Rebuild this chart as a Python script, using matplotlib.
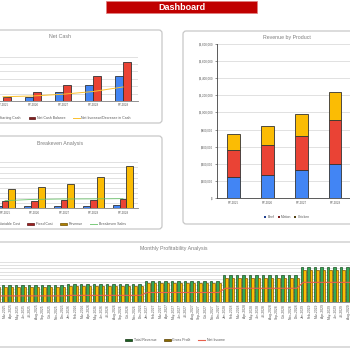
import matplotlib
matplotlib.use("Agg")
import matplotlib.pyplot as plt
from matplotlib.patches import FancyBboxPatch, Rectangle, Patch
from matplotlib.lines import Line2D

plt.rcParams['font.family'] = ['Liberation Sans', 'DejaVu Sans']

# ---------------- data ----------------
years = ["FY-2025", "FY-2026", "FY-2027", "FY-2028", "FY-2029"]

starting_cash = [0, 58000, 125000, 215000, 342000]
net_cash_balance = [58000, 125000, 215000, 342000, 532000]
net_increase = [58000, 68000, 92000, 128000, 190000]

variable_cost = [105000, 105000, 105000, 108000, 130000]
fixed_cost = [287000, 290000, 327000, 330000, 366000]
be_revenue = [758000, 823000, 954000, 1216000, 1660000]
breakeven_sales = [300000, 350000, 365000, 368000, 378000]

beef = [246000, 273000, 324000, 402000, 520000]
mutton = [312000, 343000, 397000, 514000, 670000]
chicken = [194000, 222000, 261000, 324000, 440000]

month_names = ["Jan", "Feb", "Mar", "Apr", "May", "Jun",
               "Jul", "Aug", "Sep", "Oct", "Nov", "Dec"]
label_years = ["2025", "2026", "2027", "2028", "2029"]
month_labels = [f"{m}-{y}" for y in label_years for m in month_names]

monthly_revenue = [50000] * 12 + [54000] * 12 + [64000] * 12 + [81000] * 12 + [105000] * 12
monthly_gross = [44000] * 12 + [47500] * 12 + [56000] * 12 + [71000] * 12 + [95000] * 12
monthly_net = [19000] * 12 + [20500] * 12 + [29000] * 12 + [41500] * 12 + [59000] * 12

# ---------------- styling ----------------
BLUE = '#4285F4'
RED = '#EA4335'
YELLOW = '#FBBC04'
GREEN = '#34A853'
EDGE = '#333333'
GRID = '#D5D5D5'
TXT = '#595959'
TITLE = '#7F7F7F'

W = H = 350.0
fig = plt.figure(figsize=(3.5, 3.5), dpi=100)
fig.patch.set_facecolor('white')


def fx(x):
    return x / W


def fy(y):
    return 1 - y / H


def px_axes(l, t, r, b):
    ax = fig.add_axes([l / W, 1 - b / H, (r - l) / W, (b - t) / H])
    ax.set_facecolor('none')
    ax.set_zorder(2)
    return ax


def frame(l, t, r, b):
    p = FancyBboxPatch((fx(l), fy(b)), (r - l) / W, (b - t) / H,
                       boxstyle="round,pad=0,rounding_size=0.009",
                       transform=fig.transFigure, facecolor='white',
                       edgecolor='#C8C8C8', linewidth=0.9, zorder=-1)
    fig.patches.append(p)


def style_cat_axes(ax, spine_left=False):
    for s in ['top', 'right']:
        ax.spines[s].set_visible(False)
    ax.spines['left'].set_visible(spine_left)
    ax.spines['bottom'].set_color('#808080')
    ax.spines['bottom'].set_linewidth(0.6)
    ax.yaxis.grid(True, color=GRID, linewidth=0.5)
    ax.set_axisbelow(True)
    ax.tick_params(axis='x', length=0, pad=1.8, labelsize=2.2, labelcolor=TXT)
    ax.tick_params(axis='y', length=0, labelsize=2.2, labelcolor=TXT)


# frames
frame(-5, 30, 162, 123)
frame(-5, 136, 162, 229)
frame(183, 31, 400, 224)
frame(-5, 242, 360, 347)

# Dashboard banner
fig.patches.append(Rectangle((fx(106), fy(13.3)), (257 - 106) / W, 12 / H,
                             transform=fig.transFigure, facecolor='#C00000',
                             edgecolor='#E08080', linewidth=0.5, zorder=1))
fig.text(fx(181.5), fy(7.3), "Dashboard", color='white', fontsize=6.5,
         fontweight='bold', ha='center', va='center', zorder=3)

# ---------------- Net Cash ----------------
ax1 = px_axes(-12, 56.7, 138, 101)
x = list(range(len(years)))
bw = 0.28
ax1.bar([i - bw / 2 for i in x], starting_cash, bw, color=BLUE, edgecolor=EDGE, linewidth=0.6)
ax1.bar([i + bw / 2 for i in x], net_cash_balance, bw, color=RED, edgecolor=EDGE, linewidth=0.6)
ax1.plot(x, net_increase, color='#FBC02D', linewidth=0.7)
ax1.set_xlim(-0.5, 4.5)
ax1.set_ylim(0, 600000)
ax1.set_yticks(range(0, 600001, 100000))
ax1.set_yticklabels([])
ax1.set_xticks(x)
ax1.set_xticklabels(years)
style_cat_axes(ax1)
fig.text(fx(60), fy(36.5), "Net Cash", color=TITLE, fontsize=3.8, ha='center', va='center')
fig.legend([Patch(facecolor=BLUE, edgecolor='#1F3F8F', linewidth=0.5),
            Patch(facecolor='#7F1F1F', edgecolor='#5A1010', linewidth=0.5),
            Line2D([0], [0], color='#FBC02D', linewidth=0.7)],
           ["Starting Cash", "Net Cash Balance", "Net Increase/Decrease in Cash"],
           loc='center', bbox_to_anchor=(fx(61), fy(118)), ncol=3, frameon=False,
           fontsize=2.5, handlelength=2.0, handleheight=0.5, handletextpad=0.4,
           columnspacing=2.2, labelcolor=TXT)

# ---------------- Breakeven Analysis ----------------
ax2 = px_axes(-9.75, 162.3, 137.75, 208.3)
bw2 = 0.237
ax2.bar([i - bw2 for i in x], variable_cost, bw2, color=BLUE, edgecolor=EDGE, linewidth=0.6)
ax2.bar(x, fixed_cost, bw2, color=RED, edgecolor=EDGE, linewidth=0.6)
ax2.bar([i + bw2 for i in x], be_revenue, bw2, color=YELLOW, edgecolor=EDGE, linewidth=0.6)
ax2.plot(x, breakeven_sales, color='#6CC56C', linewidth=0.6, zorder=4)
ax2.set_xlim(-0.5, 4.5)
ax2.set_ylim(0, 1800000)
ax2.set_yticks(range(0, 1800001, 200000))
ax2.set_yticklabels([])
ax2.set_xticks(x)
ax2.set_xticklabels(years)
style_cat_axes(ax2)
fig.text(fx(60), fy(143), "Breakeven Analysis", color=TITLE, fontsize=3.8, ha='center', va='center')
fig.legend([Patch(facecolor=BLUE, edgecolor='#1F3F8F', linewidth=0.5),
            Patch(facecolor='#9F1F1F', edgecolor='#5A1010', linewidth=0.5),
            Patch(facecolor='#B08000', edgecolor='#705000', linewidth=0.5),
            Line2D([0], [0], color='#7CCB7C', linewidth=0.7)],
           ["Variable Cost", "Fixed Cost", "Revenue", "Breakeven Sales"],
           loc='center', bbox_to_anchor=(fx(58), fy(224)), ncol=4, frameon=False,
           fontsize=2.5, handlelength=2.0, handleheight=0.5, handletextpad=0.4,
           columnspacing=2.2, labelcolor=TXT)

# ---------------- Revenue by Product ----------------
ax3 = px_axes(217, 44, 385.5, 198)
bw3 = 0.38
ax3.bar(x, beef, bw3, color=BLUE, edgecolor=EDGE, linewidth=0.6)
ax3.bar(x, mutton, bw3, bottom=beef, color=RED, edgecolor=EDGE, linewidth=0.6)
bottom2 = [a + b for a, b in zip(beef, mutton)]
ax3.bar(x, chicken, bw3, bottom=bottom2, color=YELLOW, edgecolor=EDGE, linewidth=0.6)
ax3.set_xlim(-0.5, 4.5)
ax3.set_ylim(0, 1800000)
yt = list(range(0, 1800001, 200000))
ax3.set_yticks(yt)
ax3.set_yticklabels(["$-" if v == 0 else f"${v:,.0f}" for v in yt])
ax3.set_xticks(x)
ax3.set_xticklabels(years)
style_cat_axes(ax3, spine_left=True)
ax3.spines['left'].set_color('#404040')
ax3.spines['left'].set_linewidth(0.6)
ax3.spines['bottom'].set_color('#404040')
ax3.tick_params(axis='y', length=1.2, width=0.4, color='#404040', pad=1.5, labelsize=2.1)
fig.text(fx(287), fy(37), "Revenue by Product", color=TITLE, fontsize=3.8, ha='center', va='center')
fig.legend([Patch(facecolor='#1F3F8F'), Patch(facecolor='#7F1F1F'), Patch(facecolor='#504010')],
           ["Beef", "Mutton", "Chicken"],
           loc='center', bbox_to_anchor=(fx(287), fy(217)), ncol=3, frameon=False,
           fontsize=2.4, handlelength=0.6, handleheight=0.6, handletextpad=0.3,
           columnspacing=1.0, labelcolor=TXT)

# ---------------- Monthly Profitability ----------------
ax4 = px_axes(-12, 261.7, 378, 302.3)
m = list(range(len(month_labels)))
bw4 = 0.4
ax4.bar([i - bw4 / 2 for i in m], monthly_revenue, bw4, color=GREEN, edgecolor='#1B4D22', linewidth=0.5)
ax4.bar([i + bw4 / 2 for i in m], monthly_gross, bw4, color=YELLOW, edgecolor='#7A5A00', linewidth=0.5)
ax4.plot(m, monthly_net, color='#E8604C', linewidth=0.8, zorder=4)
ax4.set_xlim(-0.5, len(m) - 0.5)
ax4.set_ylim(0, 120000)
ax4.set_yticks(range(0, 120001, 10000))
ax4.set_yticklabels([])
ax4.set_xticks(m)
ax4.set_xticklabels(month_labels, rotation=90)
style_cat_axes(ax4)
ax4.tick_params(axis='x', labelsize=2.4, pad=1.2)
fig.text(fx(174), fy(248.3), "Monthly Profitability Analysis", color=TITLE, fontsize=3.8,
         ha='center', va='center')
fig.legend([Patch(facecolor='#1B5E20', edgecolor='#103510', linewidth=0.5),
            Patch(facecolor='#8A6A00', edgecolor='#5A4000', linewidth=0.5),
            Line2D([0], [0], color='#E8604C', linewidth=0.8)],
           ["Total Revenue", "Gross Profit", "Net Income"],
           loc='center', bbox_to_anchor=(fx(175), fy(340)), ncol=3, frameon=False,
           fontsize=2.5, handlelength=2.0, handleheight=0.5, handletextpad=0.4,
           columnspacing=2.2, labelcolor=TXT)

fig.savefig("out.png", dpi=100)
